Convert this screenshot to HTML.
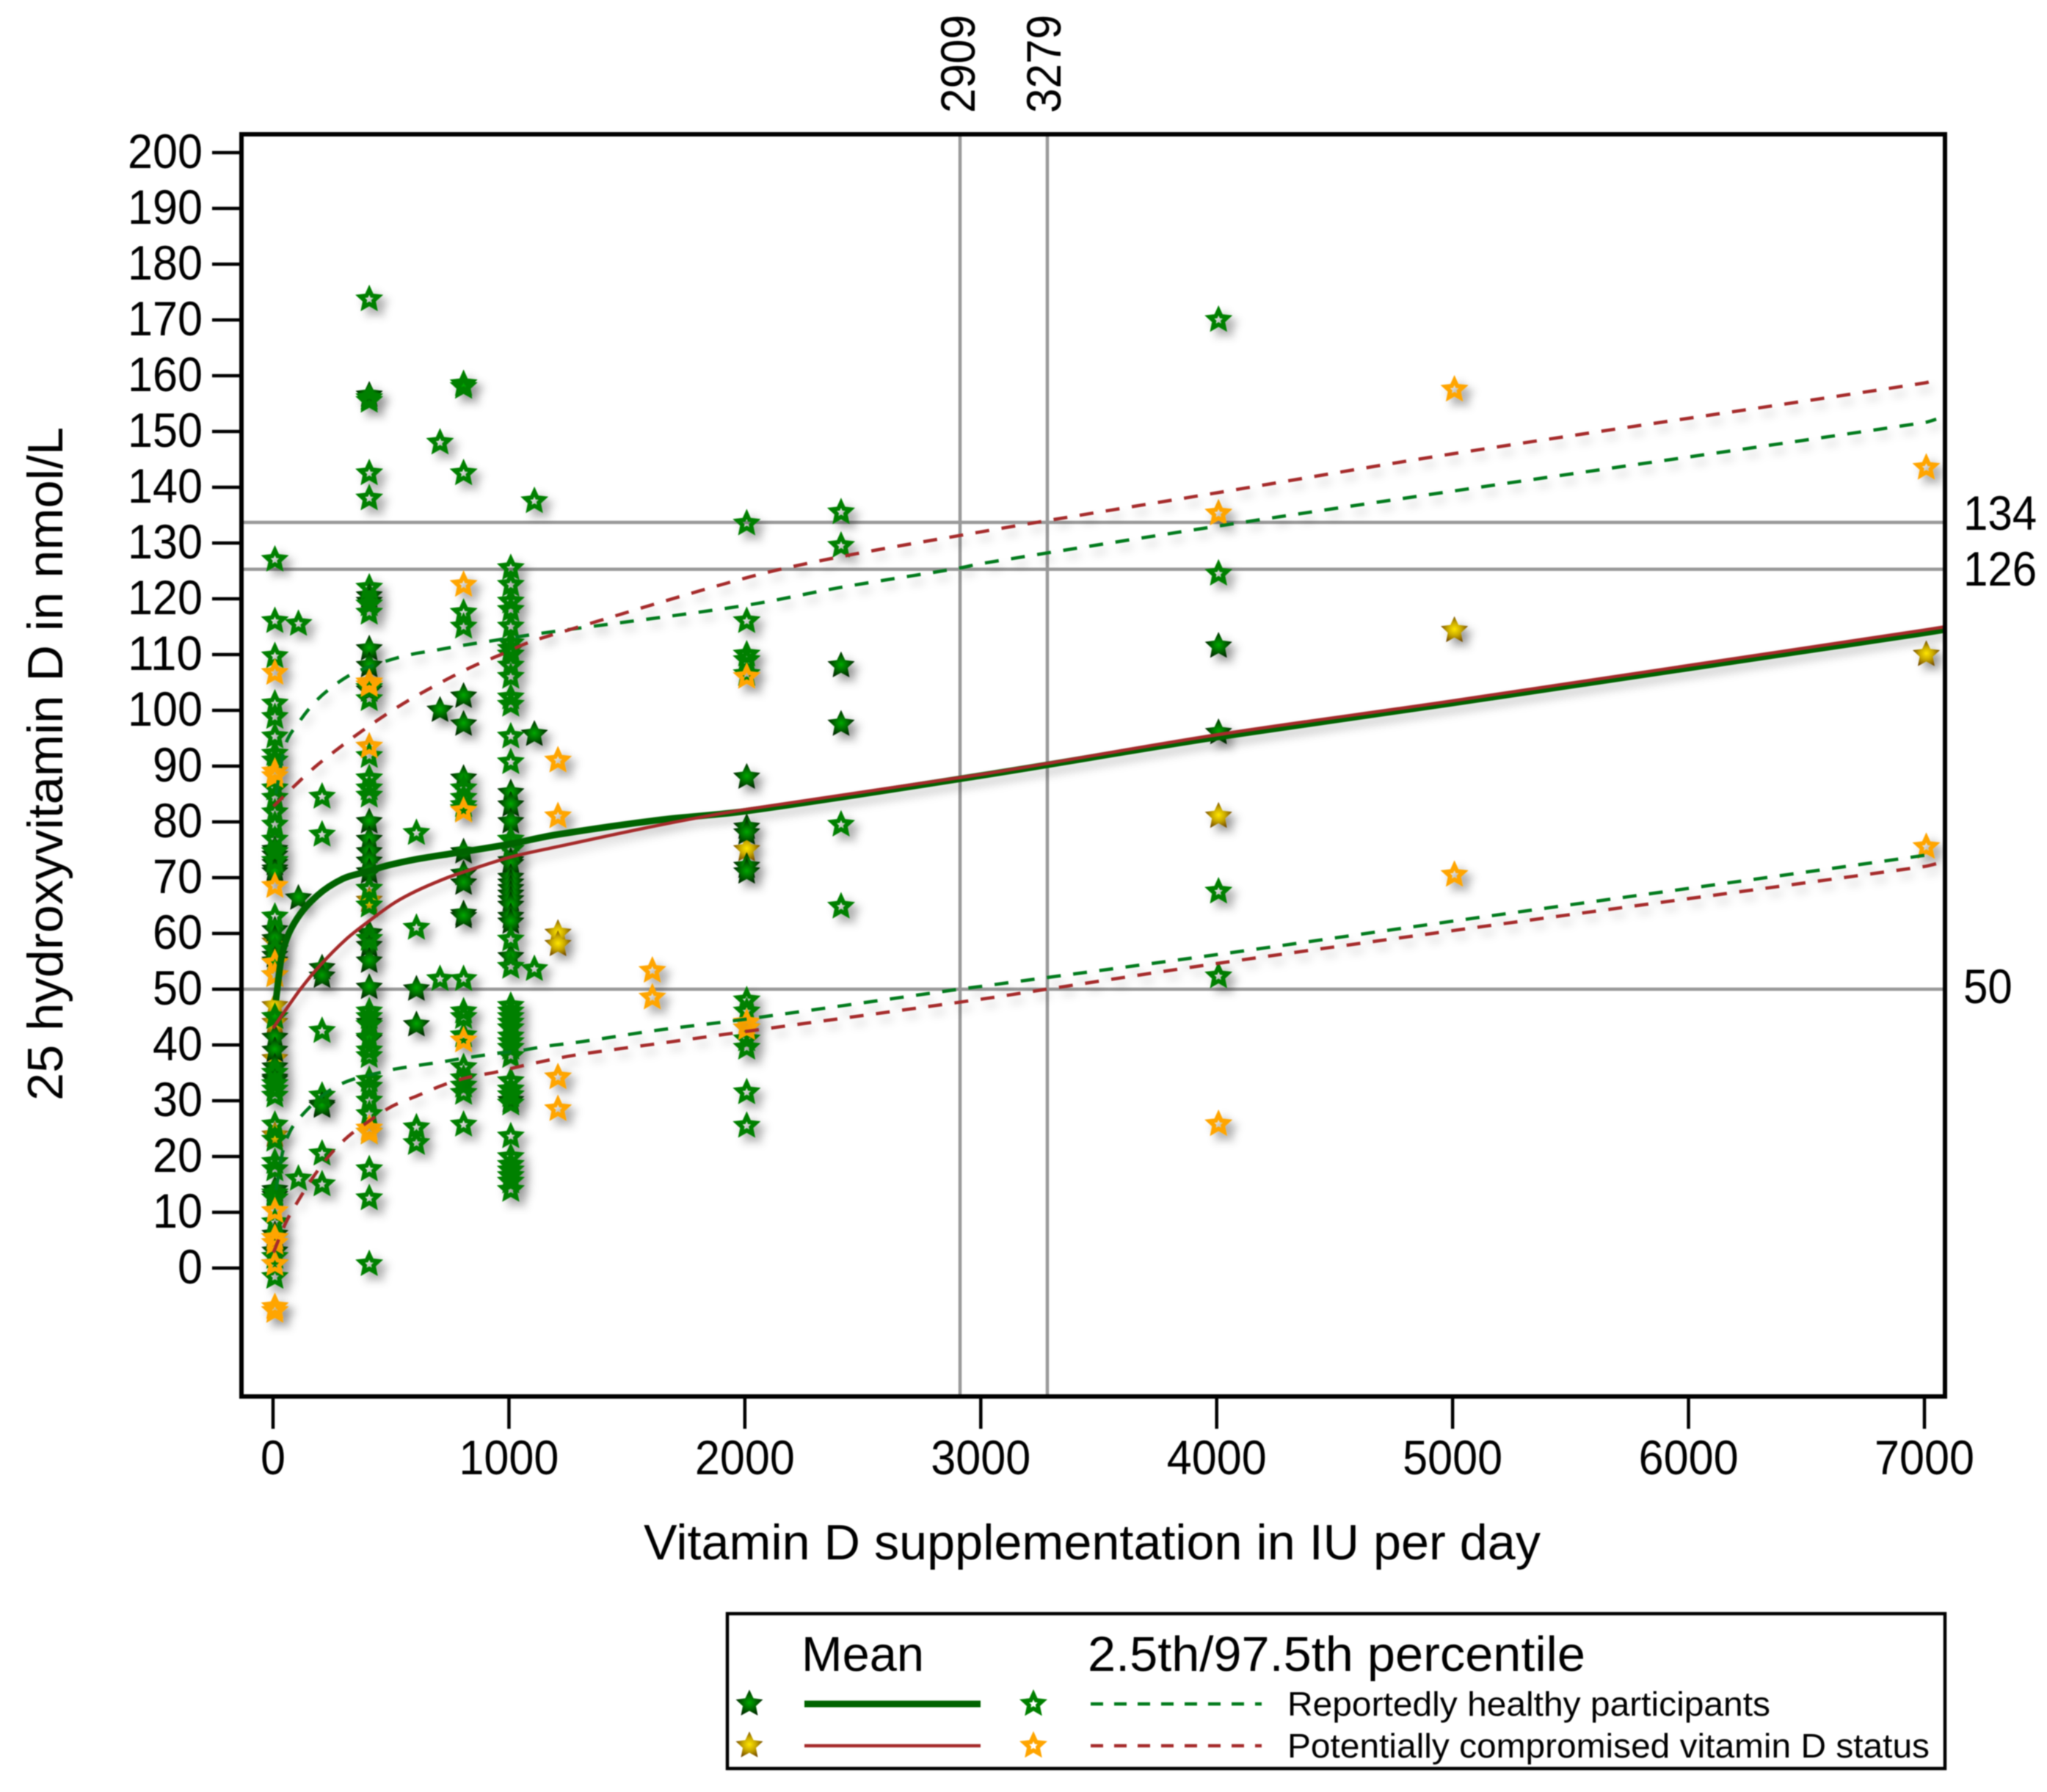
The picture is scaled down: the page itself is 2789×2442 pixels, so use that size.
<!DOCTYPE html>
<html lang="en">
<head>
<meta charset="utf-8">
<title>25 hydroxyvitamin D versus vitamin D supplementation</title>
<style>
  html, body { margin: 0; padding: 0; background: #fff; }
  body { width: 2789px; height: 2442px; overflow: hidden; }
  svg { display: block; filter: blur(0.9px); }
  text { font-family: "Liberation Sans", Arial, sans-serif; fill: #000; }
</style>
</head>
<body>
<svg id="chart" xmlns="http://www.w3.org/2000/svg" width="2789" height="2442" viewBox="0 0 2789 2442">
  <defs>
    <radialGradient id="greenFill"><stop offset="0" stop-color="#00a800"/><stop offset="0.5" stop-color="#006a00"/><stop offset="1" stop-color="#012a01"/></radialGradient>
    <radialGradient id="oliveFill"><stop offset="0" stop-color="#ffe600"/><stop offset="0.5" stop-color="#c8a800"/><stop offset="1" stop-color="#7a5200"/></radialGradient>
    <filter id="markShadow" x="-5%" y="-5%" width="110%" height="110%">
      <feDropShadow dx="8" dy="8" stdDeviation="6" flood-color="#000" flood-opacity="0.42"/>
    </filter>
    <filter id="lineShadow" x="-5%" y="-5%" width="110%" height="110%">
      <feDropShadow dx="5" dy="9" stdDeviation="6" flood-color="#000" flood-opacity="0.2"/>
    </filter>
    <clipPath id="plotClip"><rect x="329" y="183" width="2321" height="1720"/></clipPath>
  </defs>

  <rect width="2789" height="2442" fill="#fff"/>

  <g id="refLines"></g>
  <g id="marks" clip-path="url(#plotClip)" filter="url(#markShadow)"></g>
  <g id="curves" clip-path="url(#plotClip)" filter="url(#lineShadow)"></g>

  <rect x="329" y="183" width="2321" height="1720" fill="none" stroke="#000" stroke-width="6"/>
  <g id="axes"></g>

  <text x="1488" y="2125" text-anchor="middle" font-size="68" textLength="1222" lengthAdjust="spacingAndGlyphs">Vitamin D supplementation in IU per day</text>
  <text transform="translate(85,1041) rotate(-90)" text-anchor="middle" font-size="68" textLength="918" lengthAdjust="spacingAndGlyphs">25 hydroxyvitamin D in nmol/L</text>

  <g>
    <rect x="991" y="2199" width="1659" height="211" fill="#fff" stroke="#000" stroke-width="4.5"/>
    <text x="1092" y="2277" font-size="67" textLength="167" lengthAdjust="spacingAndGlyphs">Mean</text>
    <text x="1482" y="2277" font-size="67" textLength="678" lengthAdjust="spacingAndGlyphs">2.5th/97.5th percentile</text>
    <line x1="1096" x2="1336" y1="2322" y2="2322" stroke="#006400" stroke-width="9"/>
    <line x1="1096" x2="1336" y1="2379" y2="2379" stroke="#a52a2a" stroke-width="4.5"/>
    <line x1="1486" x2="1719" y1="2322" y2="2322" stroke="#007a1a" stroke-width="4.5" stroke-dasharray="17 15"/>
    <line x1="1486" x2="1719" y1="2379" y2="2379" stroke="#a52a2a" stroke-width="4.5" stroke-dasharray="17 15"/>
    <text x="1754" y="2338" font-size="46" textLength="658" lengthAdjust="spacingAndGlyphs">Reportedly healthy participants</text>
    <text x="1754" y="2395" font-size="46" textLength="875" lengthAdjust="spacingAndGlyphs">Potentially compromised vitamin D status</text>
    <g id="legendStars"></g>
  </g>
</svg>

<script>
// ---- Axis data ----
const xTickLabels = [0, 1000, 2000, 3000, 4000, 5000, 6000, 7000];
const yTickLabels = [0, 10, 20, 30, 40, 50, 60, 70, 80, 90, 100, 110, 120, 130, 140, 150, 160, 170, 180, 190, 200];

// ---- Reference lines: positions and printed labels ----
const refDoses = [2909, 3279];
const refDoseLabels = ["2909", "3279"];
const refLevels = [133.7, 125.3, 50];
const refLevelLabels = ["134", "126", "50"];

// ---- Reportedly healthy: percentile markers (open green stars) ----
const healthyPctDose = [
  0,0,0,0,0,0,0,0,0,0,0,0,0,0,0,0,0,0,0,0,0,0,0,0,0,0,0,0,0,0,0,0,0,0,0,
  100,100,
  200,200,200,200,200,200,
  400,400,400,400,400,400,400,400,400,400,400,400,400,400,400,400,400,400,400,400,400,400,400,400,400,400,400,400,400,400,400,
  600,600,600,600,
  700,700,
  800,800,800,800,800,800,800,800,800,800,800,800,800,800,800,800,800,800,
  1000,1000,1000,1000,1000,1000,1000,1000,1000,1000,1000,1000,1000,1000,1000,1000,1000,1000,1000,1000,1000,1000,1000,1000,1000,1000,1000,1000,1000,1000,1000,1000,1000,1000,1000,1000,1000,1000,
  1100,1100,
  2000,2000,2000,2000,2000,2000,2000,2000,2000,2000,2000,2000,
  2400,2400,2400,2400,
  4000,4000,4000,4000
];
const healthyPctValue = [
  127,116,109.7,101.2,98.8,95.3,92.2,91,86,84.3,81.7,79.5,76.8,74.6,73,63,57,54.7,52.5,45,35,33,32,30.9,25.7,23,19,17.7,13.4,12.5,8.2,5.4,2,0.7,-1.6,
  115.5,16,
  84.5,77.7,42.5,30.9,20.5,15,
  173.7,142.5,138,156,155.5,122,119,117.5,104,102,91.8,87.8,86,84.7,68,65,59,46,45,43.6,41.3,39,38,33.7,32.5,30,27.6,24.3,17.7,12.5,0.7,
  78,61,25.2,22.4,
  148,51.8,
  158.5,158,142.5,117.5,115,86,84.3,83,82.3,51.8,46,45,41.7,36,34,32.7,31.4,25.7,
  125.5,122.5,119.5,118,115,112,111,110,108,106,102.3,101,95.3,90.7,76.8,75,58.9,54,47,46,45,44,43,41.5,40.5,39.5,38,33.5,32,31,29.5,23.6,19.9,18.5,17.5,16.5,15.5,14,
  137.5,53.6,
  133.5,116,110,109,106.5,48,46,43,41,39.5,31.5,25.5,
  135.5,129.5,79.5,64.8,
  170,124.5,67.5,52.3
];

// ---- Reportedly healthy: mean markers (filled green stars) ----
const healthyMeanDose = [
  0,0,0,0,0,0,0,0,0,0,0,0,0,0,0,0,0,0,0,0,0,0,
  100,
  200,200,200,200,
  400,400,400,400,400,400,400,400,400,400,400,400,400,400,400,400,400,
  600,600,
  700,
  800,800,800,800,800,800,800,800,800,
  1000,1000,1000,1000,1000,1000,1000,1000,1000,1000,1000,1000,1000,1000,1000,1000,
  1100,
  2000,2000,2000,2000,2000,
  2400,2400,
  4000,4000
];
const healthyMeanValue = [
  75,74,73,72.5,71.5,71,60.6,59,57,56,55,45,41.3,39,36,34,33.7,33,14,13,6,3,
  66.3,
  53.8,52.3,29.3,29,
  156.5,120.5,119.5,111,108,103.6,80,76.8,74.6,72.9,71,60,57.8,55,50.3,44,41,
  50,43.6,
  100,
  158,102.5,97.5,87.8,74.6,70.7,69,63.5,63,
  85.2,83,80,76.8,73,72.5,70,69,68,67,66,65,63,62,55.8,30,
  95.7,
  88,79,78,72,71,
  108,97.5,
  111.5,96
];

// ---- Potentially compromised: mean markers (filled olive stars) ----
const compromisedMeanDose = [0,0,0,0,0,0,400,400,800,1200,1200,2000,4000,5000,7000];
const compromisedMeanValue = [58.4,47,45,44,37.5,23.8,65.9,59,82.3,60,58,75,81,114.3,110];

// ---- Potentially compromised: percentile markers (open orange stars) ----
const compromisedPctDose = [0,0,0,0,0,0,0,0,0,0,0,0,400,400,400,400,400,800,800,800,1200,1200,1200,1200,1600,1600,2000,2000,2000,4000,4000,5000,5000,7000,7000];
const compromisedPctValue = [106.7,88.2,89,68.5,54.7,52.5,10.2,5.4,4.5,0.7,-7,-7.7,105,104.5,93.5,25,24.3,122.5,82,40.8,91,81,34.2,28.5,53.3,48.5,106,44,43,135.3,25.8,157.5,70.5,143.5,75.5];

// ---- Fit curves, read at these doses ----
const healthyMeanCurveDose = [12,38,92,188,296,400,487,607,800,1000,1200,1647,2000,3000,4000,5000,7000,7090];
const healthyMeanCurveValue = [48,56.2,62,66.8,69.8,71.1,72.2,73.3,74.6,76,77.7,80.4,81.9,88.3,95.2,101.3,113.9,114.5];

const compromisedMeanCurveDose = [0,44,116,200,308,400,511,607,727,800,1000,1200,1647,2000,3000,4000,5000,7000,7090];
const compromisedMeanCurveValue = [43,45.7,50,54.3,58.9,62,65.4,67.6,69.8,70.9,73.6,75.5,79.5,82.2,88.5,95.6,101.7,114.4,115];

const healthyUpperCurveDose = [12,50,104,176,254,343,463,571,691,798,917,1134,2000,2400,2909,3000,4000,5000,7000,7050];
const healthyUpperCurveValue = [85,93.5,97.5,101.4,104.3,106.7,108.6,109.9,110.8,111.6,112.4,113.8,118.8,122,125.5,126.3,133,139.3,151.6,152.2];

const compromisedUpperCurveDose = [2,92,182,272,367,463,559,655,757,858,966,1073,1181,2000,2400,3000,3279,4000,5000,7000,7050];
const compromisedUpperCurveValue = [82.8,86.5,90,93,96,98.8,101.4,103.7,106,108.1,110,112,113.5,123.7,127.5,132,134,139,146,158.7,159.3];

const healthyLowerCurveDose = [12,45,98,265,487,594,706,820,934,1048,1162,1275,1389,1622,2000,2909,3000,4000,5000,7000,7050];
const healthyLowerCurveValue = [14,21.5,26.2,32.5,35.4,36.2,36.9,37.7,38.4,39,39.8,40.4,41.1,42.6,44.6,50,50.5,56.2,62.2,74,74.6];

const compromisedLowerCurveDose = [2,56,110,170,241,319,402,504,612,720,828,942,1061,1170,1283,1397,1622,2000,3000,3279,4000,5000,7000,7050];
const compromisedLowerCurveValue = [2.8,8.3,12.3,16.3,20.3,23.6,26.2,29,30.9,32.8,34.2,35.1,36.3,37.3,38.2,38.9,40.2,42.4,48.2,50,54.6,60.5,72,72.5];

// ---- Axis functions ----
function xScale(d) { return 372 + d * 0.32143; }
function yScale(v) { return 1728 - v * 7.6; }
// Markers sit slightly right of the tick position in the source figure.
function markX(d) { return xScale(d) + 2.5; }

const NS = "http://www.w3.org/2000/svg";

function starPoints(cx, cy, R, r) {
  let s = "";
  for (let i = 0; i < 10; i++) {
    const rad = i % 2 === 0 ? R : r;
    const a = -Math.PI / 2 + i * Math.PI / 5;
    s += (i === 0 ? "M" : "L") + (cx + rad * Math.cos(a)).toFixed(1) + " " + (cy + rad * Math.sin(a)).toFixed(1);
  }
  return s + "Z";
}

function openStar(cx, cy, color) {
  const el = document.createElementNS(NS, "path");
  el.setAttribute("d", starPoints(cx, cy, 20, 9.5) + starPoints(cx, cy, 6, 3));
  el.setAttribute("fill", color);
  el.setAttribute("fill-rule", "evenodd");
  return el;
}

function filledStar(cx, cy, fill) {
  const el = document.createElementNS(NS, "path");
  el.setAttribute("d", starPoints(cx, cy, 19.5, 9.5));
  el.setAttribute("fill", fill);
  return el;
}

// ---- Markers ----
const marks = document.getElementById("marks");

compromisedMeanDose.forEach(function (d, i) {
  const el = filledStar(markX(d), yScale(compromisedMeanValue[i]), "url(#oliveFill)");
  
  
  marks.appendChild(el);
});
healthyMeanDose.forEach(function (d, i) {
  const el = filledStar(markX(d), yScale(healthyMeanValue[i]), "url(#greenFill)");
  
  
  marks.appendChild(el);
});
healthyPctDose.forEach(function (d, i) {
  const el = openStar(markX(d), yScale(healthyPctValue[i]), "#008000");
  
  
  marks.appendChild(el);
});
compromisedPctDose.forEach(function (d, i) {
  const el = openStar(markX(d), yScale(compromisedPctValue[i]), "#ffa500");
  
  
  marks.appendChild(el);
});

// ---- Curves (smoothed through the read values) ----
const curves = document.getElementById("curves");

function curvePath(doses, values) {
  const pts = doses.map(function (d, i) { return [xScale(d), yScale(values[i])]; });
  let s = "M" + pts[0][0].toFixed(1) + " " + pts[0][1].toFixed(1);
  for (let i = 0; i < pts.length - 1; i++) {
    const p0 = pts[Math.max(i - 1, 0)];
    const p1 = pts[i];
    const p2 = pts[i + 1];
    const p3 = pts[Math.min(i + 2, pts.length - 1)];
    const seg = p2[0] - p1[0];
    const t1 = seg / (p2[0] - p0[0] || 1);
    const t2 = seg / (p3[0] - p1[0] || 1);
    const c1x = p1[0] + (p2[0] - p0[0]) * t1 / 3;
    const c1y = p1[1] + (p2[1] - p0[1]) * t1 / 3;
    const c2x = p2[0] - (p3[0] - p1[0]) * t2 / 3;
    const c2y = p2[1] - (p3[1] - p1[1]) * t2 / 3;
    s += "C" + c1x.toFixed(1) + " " + c1y.toFixed(1) + " " + c2x.toFixed(1) + " " + c2y.toFixed(1) + " " + p2[0].toFixed(1) + " " + p2[1].toFixed(1);
  }
  return s;
}

function makeCurve(doses, values, color, width, dash) {
  const el = document.createElementNS(NS, "path");
  el.setAttribute("d", curvePath(doses, values));
  el.setAttribute("fill", "none");
  el.setAttribute("stroke", color);
  el.setAttribute("stroke-width", width);
  el.setAttribute("stroke-linejoin", "round");
  if (dash) el.setAttribute("stroke-dasharray", dash);
  curves.appendChild(el);
  return el;
}

const curveHealthyUpper = makeCurve(healthyUpperCurveDose, healthyUpperCurveValue, "#007a1a", 4.5, "19 17");


const curveHealthyLower = makeCurve(healthyLowerCurveDose, healthyLowerCurveValue, "#007a1a", 4.5, "19 17");


const curveCompUpper = makeCurve(compromisedUpperCurveDose, compromisedUpperCurveValue, "#a52a2a", 4.5, "19 17");


const curveCompLower = makeCurve(compromisedLowerCurveDose, compromisedLowerCurveValue, "#a52a2a", 4.5, "19 17");


const curveHealthyMean = makeCurve(healthyMeanCurveDose, healthyMeanCurveValue, "#006400", 9, null);


const curveCompMean = makeCurve(compromisedMeanCurveDose, compromisedMeanCurveValue, "#a52a2a", 4.5, null);



// ---- Reference lines and labels ----
const refLines = document.getElementById("refLines");

refDoses.forEach(function (d, i) {
  const ln = document.createElementNS(NS, "line");
  
  
  ln.setAttribute("x1", xScale(d) + 1);
  ln.setAttribute("x2", xScale(d) + 1);
  ln.setAttribute("y1", 183);
  ln.setAttribute("y2", 1903);
  ln.setAttribute("stroke", "#999");
  ln.setAttribute("stroke-width", 4.5);
  refLines.appendChild(ln);

  const tx = document.createElementNS(NS, "text");
  
  
  tx.setAttribute("transform", "translate(" + (xScale(d) + 21 - i * 2) + ",154) rotate(-90)");
  tx.setAttribute("font-size", 66);
  tx.setAttribute("textLength", 134);
  tx.setAttribute("lengthAdjust", "spacingAndGlyphs");
  tx.textContent = refDoseLabels[i];
  refLines.appendChild(tx);
});

const refLevelLabelY = [722, 798, 1367];
refLevels.forEach(function (v, i) {
  const ln = document.createElementNS(NS, "line");
  
  
  ln.setAttribute("x1", 329);
  ln.setAttribute("x2", 2650);
  ln.setAttribute("y1", yScale(v));
  ln.setAttribute("y2", yScale(v));
  ln.setAttribute("stroke", "#999");
  ln.setAttribute("stroke-width", 4.5);
  refLines.appendChild(ln);

  const tx = document.createElementNS(NS, "text");
  
  
  tx.setAttribute("x", 2675);
  tx.setAttribute("y", refLevelLabelY[i]);
  tx.setAttribute("font-size", 66);
  tx.setAttribute("textLength", refLevelLabels[i].length * 33.4);
  tx.setAttribute("lengthAdjust", "spacingAndGlyphs");
  tx.textContent = refLevelLabels[i];
  refLines.appendChild(tx);
});

// ---- Axis ticks and tick labels ----
const axes = document.getElementById("axes");

yTickLabels.forEach(function (v) {
  const tk = document.createElementNS(NS, "line");
  
  
  tk.setAttribute("x1", 289);
  tk.setAttribute("x2", 329);
  tk.setAttribute("y1", yScale(v));
  tk.setAttribute("y2", yScale(v));
  tk.setAttribute("stroke", "#000");
  tk.setAttribute("stroke-width", 4.5);
  axes.appendChild(tk);

  const tx = document.createElementNS(NS, "text");
  
  
  tx.setAttribute("x", 276);
  tx.setAttribute("y", yScale(v) + 21);
  tx.setAttribute("text-anchor", "end");
  tx.setAttribute("font-size", 66);
  tx.setAttribute("textLength", String(v).length * 34);
  tx.setAttribute("lengthAdjust", "spacingAndGlyphs");
  tx.textContent = String(v);
  axes.appendChild(tx);
});

xTickLabels.forEach(function (d) {
  const tk = document.createElementNS(NS, "line");
  
  
  tk.setAttribute("x1", xScale(d));
  tk.setAttribute("x2", xScale(d));
  tk.setAttribute("y1", 1903);
  tk.setAttribute("y2", 1947);
  tk.setAttribute("stroke", "#000");
  tk.setAttribute("stroke-width", 4.5);
  axes.appendChild(tk);

  const tx = document.createElementNS(NS, "text");
  
  
  tx.setAttribute("x", xScale(d));
  tx.setAttribute("y", 2009);
  tx.setAttribute("text-anchor", "middle");
  tx.setAttribute("font-size", 66);
  tx.setAttribute("textLength", String(d).length * 34);
  tx.setAttribute("lengthAdjust", "spacingAndGlyphs");
  tx.textContent = String(d);
  axes.appendChild(tx);
});

// ---- Legend markers ----
const legendStars = document.getElementById("legendStars");

const legendStar1 = filledStar(1021, 2322, "url(#greenFill)");


legendStars.appendChild(legendStar1);

const legendStar2 = filledStar(1021, 2379, "url(#oliveFill)");


legendStars.appendChild(legendStar2);

const legendStar3 = openStar(1408, 2322, "#008000");


legendStars.appendChild(legendStar3);

const legendStar4 = openStar(1408, 2379, "#ffa500");


legendStars.appendChild(legendStar4);
</script>
</body>
</html>
